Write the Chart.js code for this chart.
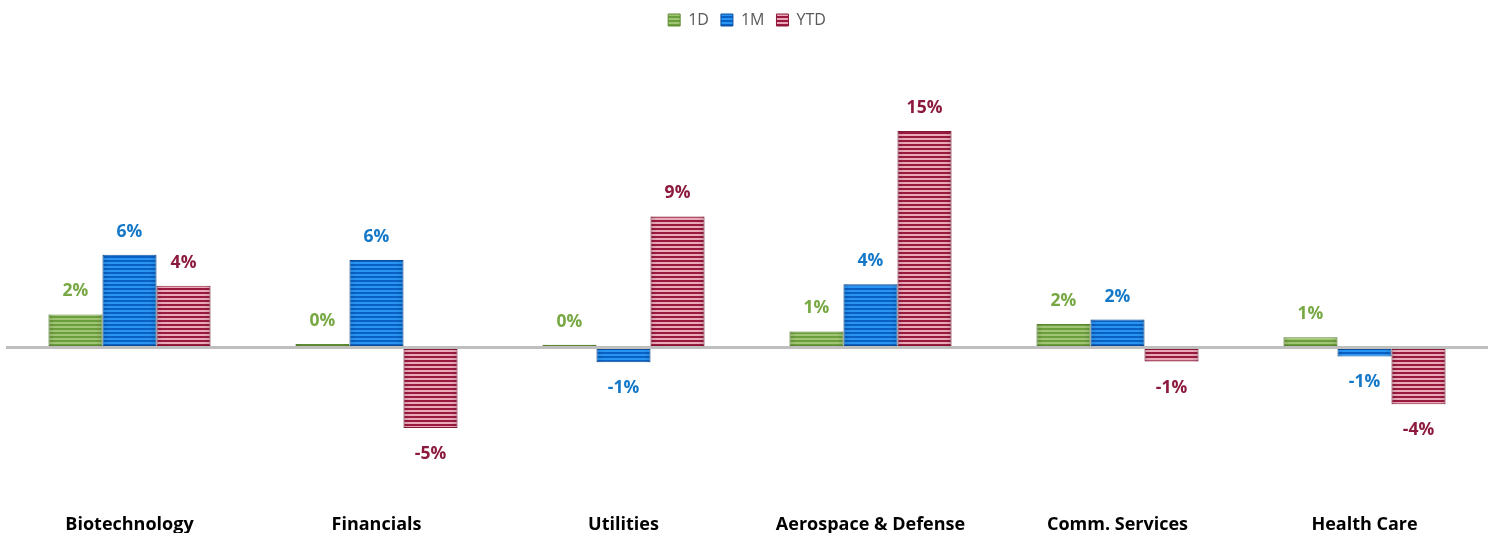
<!DOCTYPE html>
<html lang="en">
<head>
    <meta charset="UTF-8">
    <title>Sector Performance</title>
    <script src="https://cdn.jsdelivr.net/npm/chart.js@4"></script>
    <style>
        html, body {
            margin: 0;
            padding: 0;
            background: #ffffff;
            overflow: hidden;
        }
        .chart-wrap {
            width: 1494px;
            height: 540px;
            position: relative;
        }
    </style>
</head>
<body>
    <div class="chart-wrap">
        <canvas id="sectorChart"></canvas>
    </div>

    <script>
        // Chart data
        const categories = ['Biotechnology', 'Financials', 'Utilities', 'Aerospace & Defense', 'Comm. Services', 'Health Care'];
        const seriesNames = ['1D', '1M', 'YTD'];
        const oneDay = [2.25, 0.25, 0.2, 1.1, 1.6, 0.7];
        const oneMonth = [6.3, 5.95, -1.0, 4.3, 1.9, -0.6];
        const ytd = [4.2, -5.45, 8.9, 14.7, -0.95, -3.85];

        // dark stripe / light stripe / edge colour per series
        const stripeColors = [
            ['#6c9d3c', '#a0c675', '#5e8a33'],
            ['#0a60c2', '#2895f3', '#0a4f9e'],
            ['#9a1a3e', '#e9a9b9', '#8a1838']
        ];
        const labelColors = ['#77a843', '#1478c8', '#8c1a3c'];
        const fontFamily = '"Open Sans", Lato, sans-serif';

        function stripePattern(dark, light) {
            const c = document.createElement('canvas');
            c.width = 4;
            c.height = 4;
            const g = c.getContext('2d');
            g.fillStyle = light;
            g.fillRect(0, 0, 4, 4);
            g.fillStyle = dark;
            g.fillRect(0, 0, 4, 2);
            return g.createPattern(c, 'repeat');
        }

        const seriesValues = [oneDay, oneMonth, ytd];

        // value labels above / below each bar
        const valueLabels = {
            id: 'valueLabels',
            afterDatasetsDraw(chart) {
                const ctx = chart.ctx;
                ctx.save();
                ctx.font = 'bold 17.5px ' + fontFamily;
                ctx.textAlign = 'center';
                ctx.textBaseline = 'middle';
                chart.data.datasets.forEach((ds, i) => {
                    const meta = chart.getDatasetMeta(i);
                    ctx.fillStyle = labelColors[i];
                    meta.data.forEach((bar, j) => {
                        const v = ds.data[j];
                        const txt = Math.round(v) + '%';
                        const y = v >= 0 ? bar.y - 23 : bar.y + 26;
                        ctx.fillText(txt, bar.x, y);
                    });
                });
                ctx.restore();
            }
        };

        // soft shading at left/right edges of bars
        const barShade = {
            id: 'barShade',
            afterDatasetsDraw(chart) {
                const ctx = chart.ctx;
                ctx.save();
                chart.data.datasets.forEach((ds, i) => {
                    chart.getDatasetMeta(i).data.forEach(bar => {
                        const left = bar.x - bar.width / 2;
                        const top = Math.min(bar.y, bar.base);
                        const h = Math.abs(bar.base - bar.y);
                        const grad = ctx.createLinearGradient(left, 0, left + bar.width, 0);
                        grad.addColorStop(0, 'rgba(0,0,0,0.1)');
                        grad.addColorStop(0.12, 'rgba(0,0,0,0)');
                        grad.addColorStop(0.88, 'rgba(0,0,0,0)');
                        grad.addColorStop(1, 'rgba(0,0,0,0.1)');
                        ctx.fillStyle = grad;
                        ctx.fillRect(left, top, bar.width, h);
                    });
                });
                ctx.restore();
            }
        };

        const datasets = seriesNames.map((name, i) => ({
            label: name,
            data: seriesValues[i],
            backgroundColor: stripePattern(stripeColors[i][0], stripeColors[i][1]),
            borderColor: stripeColors[i][2],
            borderWidth: 1,
            borderSkipped: false,
            barPercentage: 1.0,
            categoryPercentage: 0.656
        }));

        new Chart(document.getElementById('sectorChart'), {
            type: 'bar',
            data: {
                labels: categories,
                datasets: datasets
            },
            options: {
                responsive: true,
                maintainAspectRatio: false,
                animation: false,
                layout: {
                    padding: { left: 6, right: 6, top: 0, bottom: 0 }
                },
                plugins: {
                    legend: {
                        position: 'top',
                        labels: {
                            boxWidth: 12,
                            boxHeight: 12,
                            padding: 12,
                            color: '#595959',
                            font: { family: fontFamily, size: 16 }
                        }
                    },
                    tooltip: { enabled: false }
                },
                scales: {
                    x: {
                        grid: { display: false },
                        border: { display: false },
                        ticks: {
                            color: '#000000',
                            padding: 4,
                            maxRotation: 0,
                            font: { family: fontFamily, size: 18, weight: 'bold' }
                        }
                    },
                    y: {
                        min: -10.5,
                        max: 21,
                        display: true,
                        border: { display: false },
                        ticks: { display: false, stepSize: 0.5 },
                        grid: {
                            drawTicks: false,
                            color: ctx => ctx.tick && ctx.tick.value === 0 ? '#bfbfbf' : 'rgba(0,0,0,0)',
                            lineWidth: ctx => ctx.tick && ctx.tick.value === 0 ? 3 : 0
                        }
                    }
                }
            },
            plugins: [barShade, valueLabels]
        });
    </script>
</body>
</html>
